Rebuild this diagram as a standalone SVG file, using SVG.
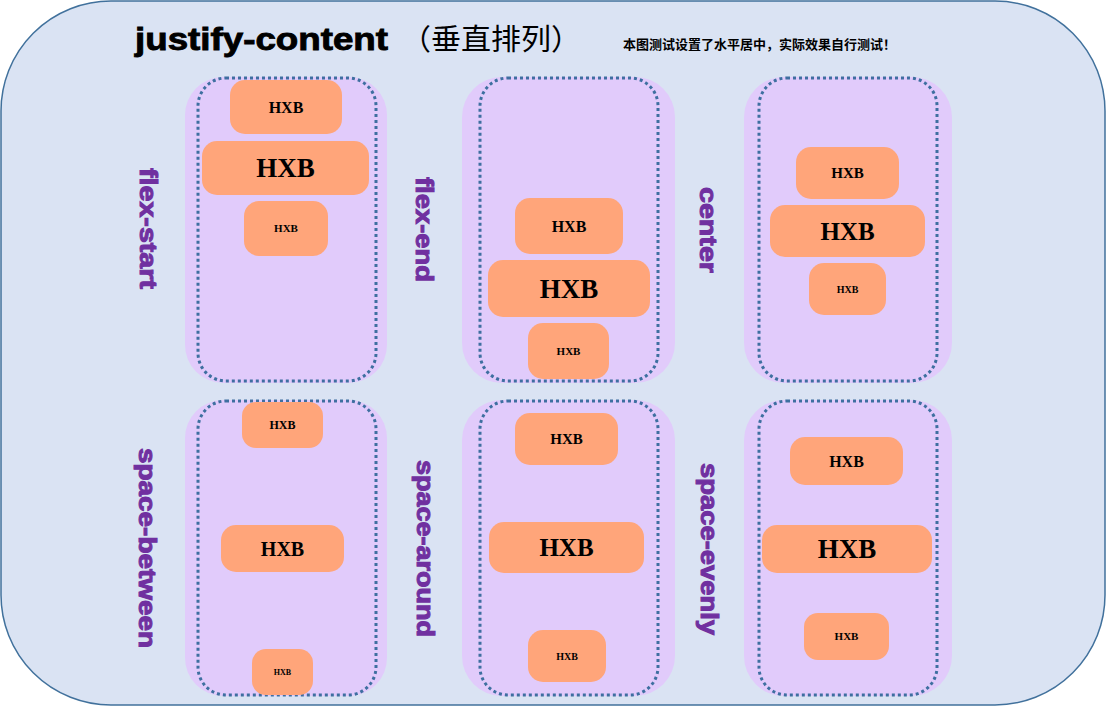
<svg xmlns="http://www.w3.org/2000/svg" width="1106" height="708" viewBox="0 0 1106 708">
<style>
.bg{fill:#DAE3F3;stroke:#41719C;stroke-width:1.5}
.pan{fill:#E1CBFB}
.dot{fill:none;stroke:#3E6FA0;stroke-width:3;stroke-dasharray:3 3}
.box{fill:#FFA57A}
.hx{font-family:"Liberation Serif","Times New Roman",serif;font-weight:bold;fill:#000;text-anchor:middle}
.lbl{font-family:"Liberation Sans",Arial,sans-serif;font-weight:bold;font-size:24px;fill:#7030A0;stroke:#7030A0;stroke-width:1;text-anchor:middle}
</style>
<rect class="bg" x="1" y="1" width="1104" height="704" rx="110" ry="110"/>
<g id="title">
<text x="135" y="50" font-family="'Liberation Sans',Arial,sans-serif" font-weight="bold" font-size="32" textLength="253" lengthAdjust="spacingAndGlyphs" fill="#000" stroke="#000" stroke-width="0.9">justify-content</text>
<text x="401" y="50" font-family="'Noto Sans CJK SC',sans-serif" font-size="29" fill="#000" textLength="180" lengthAdjust="spacingAndGlyphs">（垂直排列）</text>
<text x="623" y="49" font-family="'Noto Sans CJK SC',sans-serif" font-weight="bold" font-size="13" fill="#000" textLength="273" lengthAdjust="spacingAndGlyphs">本图测试设置了水平居中，实际效果自行测试！</text>
</g>

<g id="flex-start">
<rect class="pan" x="185" y="77" width="202" height="306" rx="38"/>
<rect class="dot" x="198" y="78" width="178" height="303" rx="28"/>
<rect class="box" x="230" y="80" width="112" height="54" rx="15"/>
<text class="hx" x="286" y="112.5" font-size="16">HXB</text>
<rect class="box" x="202" y="141" width="167" height="54" rx="15"/>
<text class="hx" x="285.5" y="177" font-size="27">HXB</text>
<rect class="box" x="244" y="201" width="84" height="55" rx="15"/>
<text class="hx" x="286" y="232" font-size="11">HXB</text>
<text class="lbl" transform="translate(140,228.5) rotate(90)" textLength="121" lengthAdjust="spacingAndGlyphs">flex-start</text>
</g>

<g id="flex-end">
<rect class="pan" x="462" y="77" width="213" height="306" rx="40"/>
<rect class="dot" x="480" y="78" width="178" height="303" rx="28"/>
<rect class="box" x="515" y="198" width="108" height="56" rx="15"/>
<text class="hx" x="569" y="231.5" font-size="16">HXB</text>
<rect class="box" x="488" y="260" width="162" height="57" rx="15"/>
<text class="hx" x="569" y="297.5" font-size="27">HXB</text>
<rect class="box" x="528" y="323" width="81" height="56" rx="15"/>
<text class="hx" x="568.5" y="354.5" font-size="11">HXB</text>
<text class="lbl" transform="translate(416,229.5) rotate(90)" textLength="105" lengthAdjust="spacingAndGlyphs">flex-end</text>
</g>

<g id="center">
<rect class="pan" x="744" y="77" width="208" height="306" rx="40"/>
<rect class="dot" x="759" y="78" width="178" height="303" rx="28"/>
<rect class="box" x="796" y="147" width="103" height="52" rx="15"/>
<text class="hx" x="847.5" y="178" font-size="15">HXB</text>
<rect class="box" x="770" y="205" width="155" height="52" rx="15"/>
<text class="hx" x="847.5" y="239.5" font-size="25">HXB</text>
<rect class="box" x="809" y="263" width="77" height="52" rx="15"/>
<text class="hx" x="847.5" y="292.5" font-size="10">HXB</text>
<text class="lbl" transform="translate(700,230) rotate(90)" textLength="86" lengthAdjust="spacingAndGlyphs">center</text>
</g>

<g id="space-between">
<rect class="pan" x="185" y="400" width="202" height="296" rx="38"/>
<rect class="dot" x="198" y="401" width="178" height="294" rx="28"/>
<rect class="box" x="242" y="402" width="81" height="46" rx="14"/>
<text class="hx" x="282.5" y="429" font-size="12">HXB</text>
<rect class="box" x="221" y="525" width="123" height="47" rx="15"/>
<text class="hx" x="282.5" y="555.5" font-size="20">HXB</text>
<rect class="box" x="252" y="649" width="61" height="46" rx="14"/>
<text class="hx" x="282.5" y="674.5" font-size="8">HXB</text>
<text class="lbl" transform="translate(139,548) rotate(90)" textLength="200" lengthAdjust="spacingAndGlyphs">space-between</text>
</g>

<g id="space-around">
<rect class="pan" x="462" y="400" width="213" height="296" rx="40"/>
<rect class="dot" x="480" y="401" width="178" height="294" rx="28"/>
<rect class="box" x="515" y="413" width="103" height="52" rx="15"/>
<text class="hx" x="566.5" y="444" font-size="15">HXB</text>
<rect class="box" x="489" y="522" width="155" height="51" rx="15"/>
<text class="hx" x="566.5" y="556" font-size="25">HXB</text>
<rect class="box" x="528" y="630" width="78" height="52" rx="15"/>
<text class="hx" x="567" y="659.5" font-size="10">HXB</text>
<text class="lbl" transform="translate(417,548.5) rotate(90)" textLength="177" lengthAdjust="spacingAndGlyphs">space-around</text>
</g>

<g id="space-evenly">
<rect class="pan" x="744" y="400" width="208" height="296" rx="40"/>
<rect class="dot" x="759" y="401" width="178" height="294" rx="28"/>
<rect class="box" x="790" y="437" width="113" height="48" rx="15"/>
<text class="hx" x="846.5" y="466.5" font-size="16">HXB</text>
<rect class="box" x="762" y="525" width="170" height="48" rx="15"/>
<text class="hx" x="847" y="558" font-size="27">HXB</text>
<rect class="box" x="804" y="613" width="85" height="47" rx="14"/>
<text class="hx" x="846.5" y="640" font-size="11">HXB</text>
<text class="lbl" transform="translate(701,549) rotate(90)" textLength="172" lengthAdjust="spacingAndGlyphs">space-evenly</text>
</g>

<g id="connectors"></g>
</svg>
